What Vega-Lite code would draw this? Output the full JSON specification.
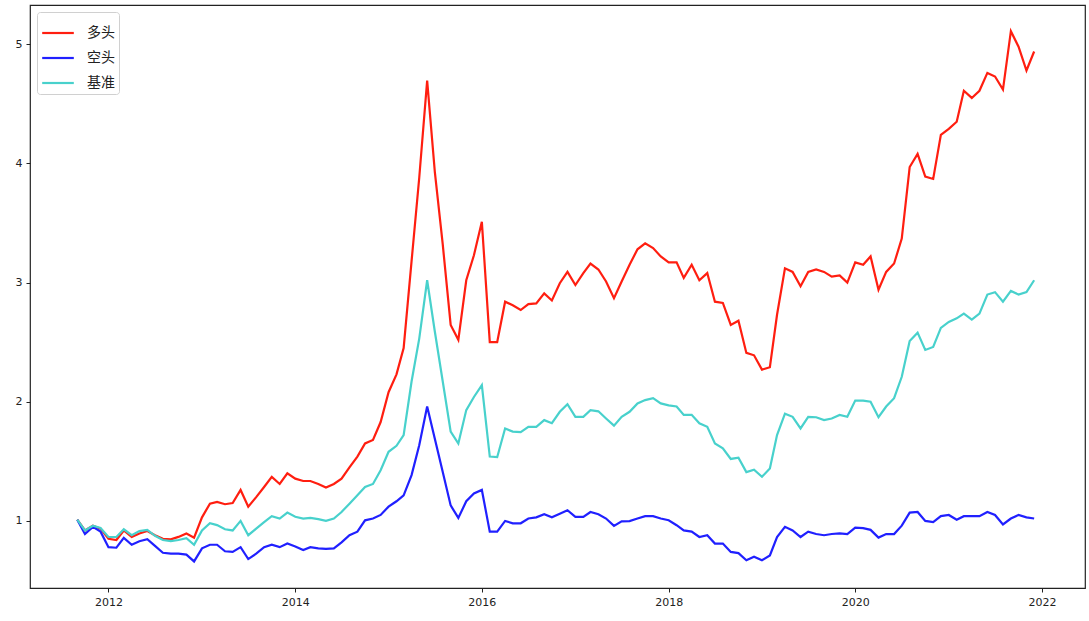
{
  "$schema": "https://vega.github.io/schema/vega-lite/v6.json",
  "width": 1055,
  "height": 583,
  "autosize": {"type": "none"},
  "padding": {"left": 30, "top": 5, "right": 4, "bottom": 33},
  "background": "white",
  "config": {
    "view": {"stroke": "#222222", "strokeWidth": 1.2},
    "font": "DejaVu Sans"
  },
  "data": {
    "values": [
      {"date": "2011-09-01", "多头": 1.01, "空头": 1.01, "基准": 1.01},
      {"date": "2011-10-01", "多头": 0.92, "空头": 0.89, "基准": 0.92},
      {"date": "2011-11-01", "多头": 0.96, "空头": 0.95, "基准": 0.96},
      {"date": "2011-12-01", "多头": 0.935, "空头": 0.91, "基准": 0.94},
      {"date": "2012-01-01", "多头": 0.85, "空头": 0.78, "基准": 0.865},
      {"date": "2012-02-01", "多头": 0.84, "空头": 0.775, "基准": 0.865},
      {"date": "2012-03-01", "多头": 0.92, "空头": 0.857, "基准": 0.93},
      {"date": "2012-04-01", "多头": 0.865, "空头": 0.8, "基准": 0.88},
      {"date": "2012-05-01", "多头": 0.895, "空头": 0.83, "基准": 0.915},
      {"date": "2012-06-01", "多头": 0.915, "空头": 0.846, "基准": 0.925},
      {"date": "2012-07-01", "多头": 0.88, "空头": 0.79, "基准": 0.875},
      {"date": "2012-08-01", "多头": 0.85, "空头": 0.733, "基准": 0.84},
      {"date": "2012-09-01", "多头": 0.846, "空头": 0.725, "基准": 0.83},
      {"date": "2012-10-01", "多头": 0.866, "空头": 0.725, "基准": 0.84},
      {"date": "2012-11-01", "多头": 0.895, "空头": 0.717, "基准": 0.855},
      {"date": "2012-12-01", "多头": 0.86, "空头": 0.66, "基准": 0.8},
      {"date": "2013-01-01", "多头": 1.03, "空头": 0.77, "基准": 0.92},
      {"date": "2013-02-01", "多头": 1.145, "空头": 0.8, "基准": 0.98},
      {"date": "2013-03-01", "多头": 1.16, "空头": 0.8, "基准": 0.965},
      {"date": "2013-04-01", "多头": 1.14, "空头": 0.745, "基准": 0.93},
      {"date": "2013-05-01", "多头": 1.15, "空头": 0.74, "基准": 0.92},
      {"date": "2013-06-01", "多头": 1.26, "空头": 0.78, "基准": 1.0},
      {"date": "2013-07-01", "多头": 1.12, "空头": 0.68, "基准": 0.88},
      {"date": "2013-08-01", "多头": 1.2, "空头": 0.725, "基准": 0.935},
      {"date": "2013-09-01", "多头": 1.285, "空头": 0.78, "基准": 0.99},
      {"date": "2013-10-01", "多头": 1.37, "空头": 0.8, "基准": 1.04},
      {"date": "2013-11-01", "多头": 1.31, "空头": 0.78, "基准": 1.02},
      {"date": "2013-12-01", "多头": 1.4, "空头": 0.81, "基准": 1.07},
      {"date": "2014-01-01", "多头": 1.355, "空头": 0.785, "基准": 1.035},
      {"date": "2014-02-01", "多头": 1.335, "空头": 0.755, "基准": 1.02},
      {"date": "2014-03-01", "多头": 1.335, "空头": 0.78, "基准": 1.025},
      {"date": "2014-04-01", "多头": 1.31, "空头": 0.77, "基准": 1.015},
      {"date": "2014-05-01", "多头": 1.28, "空头": 0.765, "基准": 1.0},
      {"date": "2014-06-01", "多头": 1.31, "空头": 0.77, "基准": 1.02},
      {"date": "2014-07-01", "多头": 1.355, "空头": 0.82, "基准": 1.075},
      {"date": "2014-08-01", "多头": 1.45, "空头": 0.88, "基准": 1.145},
      {"date": "2014-09-01", "多头": 1.54, "空头": 0.91, "基准": 1.215},
      {"date": "2014-10-01", "多头": 1.65, "空头": 1.005, "基准": 1.285},
      {"date": "2014-11-01", "多头": 1.68, "空头": 1.02, "基准": 1.31},
      {"date": "2014-12-01", "多头": 1.83, "空头": 1.05, "基准": 1.425},
      {"date": "2015-01-01", "多头": 2.08, "空头": 1.12, "基准": 1.58},
      {"date": "2015-02-01", "多头": 2.23, "空头": 1.165, "基准": 1.63},
      {"date": "2015-03-01", "多头": 2.45, "空头": 1.215, "基准": 1.72},
      {"date": "2015-04-01", "多头": 3.18, "空头": 1.385, "基准": 2.17},
      {"date": "2015-05-01", "多头": 3.88, "空头": 1.635, "基准": 2.53},
      {"date": "2015-06-01", "多头": 4.695, "空头": 1.96, "基准": 3.02},
      {"date": "2015-07-01", "多头": 3.93, "空头": 1.69, "基准": 2.59},
      {"date": "2015-08-01", "多头": 3.32, "空头": 1.41, "基准": 2.17},
      {"date": "2015-09-01", "多头": 2.645, "空头": 1.13, "基准": 1.75},
      {"date": "2015-10-01", "多头": 2.52, "空头": 1.025, "基准": 1.65},
      {"date": "2015-11-01", "多头": 3.02, "空头": 1.165, "基准": 1.93},
      {"date": "2015-12-01", "多头": 3.23, "空头": 1.23, "基准": 2.04},
      {"date": "2016-01-01", "多头": 3.51, "空头": 1.26, "基准": 2.14},
      {"date": "2016-02-01", "多头": 2.5, "空头": 0.91, "基准": 1.54},
      {"date": "2016-03-01", "多头": 2.5, "空头": 0.91, "基准": 1.535},
      {"date": "2016-04-01", "多头": 2.84, "空头": 1.0, "基准": 1.775},
      {"date": "2016-05-01", "多头": 2.81, "空头": 0.98, "基准": 1.75},
      {"date": "2016-06-01", "多头": 2.77, "空头": 0.98, "基准": 1.745},
      {"date": "2016-07-01", "多头": 2.82, "空头": 1.02, "基准": 1.79},
      {"date": "2016-08-01", "多头": 2.825, "空头": 1.03, "基准": 1.79},
      {"date": "2016-09-01", "多头": 2.91, "空头": 1.056, "基准": 1.846},
      {"date": "2016-10-01", "多头": 2.85, "空头": 1.03, "基准": 1.82},
      {"date": "2016-11-01", "多头": 2.995, "空头": 1.06, "基准": 1.916},
      {"date": "2016-12-01", "多头": 3.09, "空头": 1.09, "基准": 1.98},
      {"date": "2017-01-01", "多头": 2.98, "空头": 1.034, "基准": 1.874},
      {"date": "2017-02-01", "多头": 3.08, "空头": 1.034, "基准": 1.874},
      {"date": "2017-03-01", "多头": 3.16, "空头": 1.075, "基准": 1.93},
      {"date": "2017-04-01", "多头": 3.11, "空头": 1.056, "基准": 1.92},
      {"date": "2017-05-01", "多头": 3.01, "空头": 1.02, "基准": 1.86},
      {"date": "2017-06-01", "多头": 2.87, "空头": 0.958, "基准": 1.8},
      {"date": "2017-07-01", "多头": 3.01, "空头": 0.997, "基准": 1.874},
      {"date": "2017-08-01", "多头": 3.15, "空头": 0.998, "基准": 1.916},
      {"date": "2017-09-01", "多头": 3.28, "空头": 1.02, "基准": 1.986},
      {"date": "2017-10-01", "多头": 3.33, "空头": 1.04, "基准": 2.014},
      {"date": "2017-11-01", "多头": 3.29, "空头": 1.04, "基准": 2.03},
      {"date": "2017-12-01", "多头": 3.22, "空头": 1.02, "基准": 1.986},
      {"date": "2018-01-01", "多头": 3.17, "空头": 1.006, "基准": 1.97},
      {"date": "2018-02-01", "多头": 3.17, "空头": 0.964, "基准": 1.96},
      {"date": "2018-03-01", "多头": 3.04, "空头": 0.92, "基准": 1.89},
      {"date": "2018-04-01", "多头": 3.15, "空头": 0.91, "基准": 1.89},
      {"date": "2018-05-01", "多头": 3.02, "空头": 0.865, "基准": 1.82},
      {"date": "2018-06-01", "多头": 3.08, "空头": 0.88, "基准": 1.79},
      {"date": "2018-07-01", "多头": 2.84, "空头": 0.81, "基准": 1.65},
      {"date": "2018-08-01", "多头": 2.83, "空头": 0.81, "基准": 1.61},
      {"date": "2018-09-01", "多头": 2.645, "空头": 0.74, "基准": 1.52},
      {"date": "2018-10-01", "多头": 2.68, "空头": 0.73, "基准": 1.53},
      {"date": "2018-11-01", "多头": 2.41, "空头": 0.67, "基准": 1.41},
      {"date": "2018-12-01", "多头": 2.39, "空头": 0.7, "基准": 1.43},
      {"date": "2019-01-01", "多头": 2.27, "空头": 0.67, "基准": 1.37},
      {"date": "2019-02-01", "多头": 2.29, "空头": 0.71, "基准": 1.44},
      {"date": "2019-03-01", "多头": 2.73, "空头": 0.865, "基准": 1.72},
      {"date": "2019-04-01", "多头": 3.12, "空头": 0.95, "基准": 1.9},
      {"date": "2019-05-01", "多头": 3.09, "空头": 0.92, "基准": 1.874},
      {"date": "2019-06-01", "多头": 2.97, "空头": 0.865, "基准": 1.776},
      {"date": "2019-07-01", "多头": 3.09, "空头": 0.91, "基准": 1.874},
      {"date": "2019-08-01", "多头": 3.11, "空头": 0.89, "基准": 1.87},
      {"date": "2019-09-01", "多头": 3.09, "空头": 0.88, "基准": 1.846},
      {"date": "2019-10-01", "多头": 3.05, "空头": 0.89, "基准": 1.86},
      {"date": "2019-11-01", "多头": 3.06, "空头": 0.895, "基准": 1.89},
      {"date": "2019-12-01", "多头": 3.0, "空头": 0.89, "基准": 1.874},
      {"date": "2020-01-01", "多头": 3.17, "空头": 0.944, "基准": 2.01},
      {"date": "2020-02-01", "多头": 3.15, "空头": 0.94, "基准": 2.01},
      {"date": "2020-03-01", "多头": 3.22, "空头": 0.925, "基准": 2.0},
      {"date": "2020-04-01", "多头": 2.94, "空头": 0.86, "基准": 1.87},
      {"date": "2020-05-01", "多头": 3.09, "空头": 0.89, "基准": 1.96},
      {"date": "2020-06-01", "多头": 3.16, "空头": 0.89, "基准": 2.03},
      {"date": "2020-07-01", "多头": 3.37, "空头": 0.96, "基准": 2.21},
      {"date": "2020-08-01", "多头": 3.97, "空头": 1.07, "基准": 2.51},
      {"date": "2020-09-01", "多头": 4.08, "空头": 1.075, "基准": 2.58},
      {"date": "2020-10-01", "多头": 3.89, "空头": 1.0, "基准": 2.435},
      {"date": "2020-11-01", "多头": 3.87, "空头": 0.99, "基准": 2.46},
      {"date": "2020-12-01", "多头": 4.24, "空头": 1.04, "基准": 2.62},
      {"date": "2021-01-01", "多头": 4.29, "空头": 1.05, "基准": 2.67},
      {"date": "2021-02-01", "多头": 4.35, "空头": 1.01, "基准": 2.7},
      {"date": "2021-03-01", "多头": 4.61, "空头": 1.04, "基准": 2.74},
      {"date": "2021-04-01", "多头": 4.55, "空头": 1.04, "基准": 2.69},
      {"date": "2021-05-01", "多头": 4.61, "空头": 1.04, "基准": 2.74},
      {"date": "2021-06-01", "多头": 4.76, "空头": 1.075, "基准": 2.9},
      {"date": "2021-07-01", "多头": 4.73, "空头": 1.05, "基准": 2.92},
      {"date": "2021-08-01", "多头": 4.62, "空头": 0.97, "基准": 2.84},
      {"date": "2021-09-01", "多头": 5.11, "空头": 1.02, "基准": 2.93},
      {"date": "2021-10-01", "多头": 4.98, "空头": 1.05, "基准": 2.9},
      {"date": "2021-11-01", "多头": 4.78, "空头": 1.03, "基准": 2.92},
      {"date": "2021-12-01", "多头": 4.94, "空头": 1.02, "基准": 3.02}
    ]
  },
  "transform": [{"fold": ["多头", "空头", "基准"], "as": ["series", "value"]}],
  "mark": {"type": "line", "strokeWidth": 2.2},
  "encoding": {
    "x": {
      "field": "date",
      "type": "temporal",
      "scale": {"domain": [{"year": 2011, "month": 2, "date": 28}, {"year": 2022, "month": 6, "date": 18}]},
      "axis": {
        "format": "%Y",
        "tickCount": {"interval": "year", "step": 2},
        "grid": false,
        "domain": false,
        "tickColor": "#222222",
        "tickSize": 4,
        "labelFontSize": 11,
        "labelColor": "#222222",
        "labelPadding": 4,
        "title": null
      }
    },
    "y": {
      "field": "value",
      "type": "quantitative",
      "scale": {"domain": [0.437, 5.33], "zero": false, "nice": false},
      "axis": {
        "values": [1, 2, 3, 4, 5],
        "grid": false,
        "domain": false,
        "tickColor": "#222222",
        "tickSize": 4,
        "labelFontSize": 11,
        "labelColor": "#222222",
        "labelPadding": 4,
        "title": null
      }
    },
    "color": {
      "field": "series",
      "type": "nominal",
      "sort": ["多头", "空头", "基准"],
      "scale": {"domain": ["多头", "空头", "基准"], "range": ["#ff1e10", "#2020ff", "#48d1cc"]},
      "legend": {
        "orient": "top-left",
        "offset": 7,
        "title": null,
        "symbolType": "stroke",
        "symbolStrokeWidth": 2.2,
        "symbolSize": 1000,
        "labelFont": "Noto Sans CJK SC",
        "labelFontSize": 14,
        "labelColor": "#222222",
        "labelOffset": 12,
        "rowPadding": 1,
        "strokeColor": "#d0d0d0",
        "fillColor": "white",
        "padding": 4,
        "cornerRadius": 3
      }
    }
  }
}
